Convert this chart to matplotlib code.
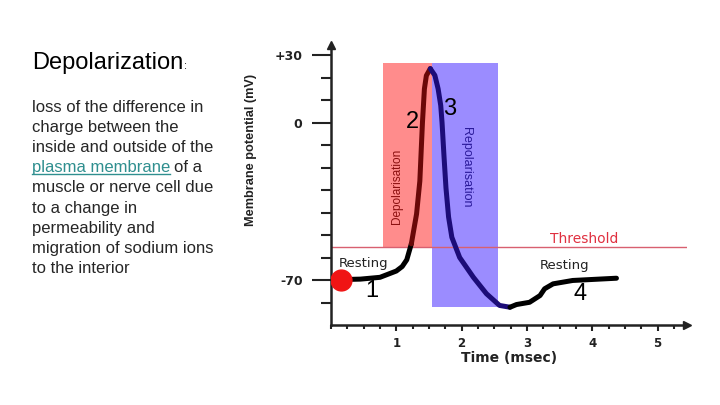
import matplotlib
matplotlib.use('Agg')
import matplotlib.pyplot as plt
from matplotlib.ticker import FixedLocator, MultipleLocator
from matplotlib.lines import Line2D

# datos (tiempo en ms, potencial en mV)
rest_t = [0.16, 0.45, 0.75, 1.00, 1.09, 1.16, 1.23]
rest_v = [-69.8, -69.6, -68.8, -66.0, -64.0, -61.0, -53.9]
dep_t = [1.23, 1.31, 1.36, 1.40, 1.43, 1.46, 1.52]
dep_v = [-53.9, -40.6, -26.0, 0.0, 15.0, 20.9, 24.0]
rep_t = [1.52, 1.59, 1.64, 1.68, 1.70, 1.73, 1.76, 1.80, 1.85, 1.97, 2.18, 2.38, 2.58, 2.74]
rep_v = [24.0, 21.0, 15.0, 7.6, 0.0, -15.0, -29.0, -42.0, -51.0, -60.0, -68.8, -76.1, -81.3, -82.1]
rec_t = [2.74, 2.84, 3.04, 3.20, 3.27, 3.40, 3.70, 4.37]
rec_v = [-82.1, -80.9, -79.9, -76.9, -73.9, -71.7, -70.2, -69.2]

dep_box = [0.80, 1.54, -55.5, 26.5]   # t0, t1, v0, v1
rep_box = [1.54, 2.55, -82.0, 26.5]
threshold = -55.5

y_major = [30, 0, -70]
y_labels = ['+30', '0', '-70']
y_minor = [-80, -60, -50, -40, -30, -20, -10, 10, 20]
x_major = [1, 2, 3, 4, 5]

title = 'Depolarization'
body = ['loss of the difference in',
        'charge between the',
        'inside and outside of the',
        None,
        'muscle or nerve cell due',
        'to a change in',
        'permeability and',
        'migration of sodium ions',
        'to the interior']
link = 'plasma membrane'

W, H = 720, 405
fig = plt.figure(figsize=(7.2, 4.05), dpi=100)
fig.patch.set_facecolor('white')


def fx(px):
    return px / W


def fy(py):
    return 1 - py / H


# texto de la izquierda
tt = fig.text(fx(32), fy(69), title, family='Liberation Sans', fontsize=17,
              color='black', va='baseline')
base0, step = 111.7, 20.2
for i, s in enumerate(body):
    if s is None:
        continue
    fig.text(fx(32), fy(base0 + i * step), s, family='Liberation Sans',
             fontsize=12, color='#262626', va='baseline')
lk = fig.text(fx(32), fy(base0 + 3 * step), link, family='Liberation Sans',
              fontsize=12, color='#2f8f8f', va='baseline')

# ejes principales
ax = fig.add_axes([331 / W, 80 / H, 356 / W, 280 / H])
ax.set_xlim(0, 5.45)
ax.set_ylim(-90, 34.5)
for s in ['top', 'right']:
    ax.spines[s].set_visible(False)
for s in ['left', 'bottom']:
    ax.spines[s].set_linewidth(1.8)
    ax.spines[s].set_color('#222222')
ax.plot(1, -90, '>', color='#222222', ms=6, transform=ax.get_yaxis_transform(), clip_on=False)
ax.plot(0, 1, '^', color='#222222', ms=6, transform=ax.get_xaxis_transform(), clip_on=False)

ax.yaxis.set_major_locator(FixedLocator(y_major))
ax.set_yticklabels(y_labels)
ax.yaxis.set_minor_locator(FixedLocator(y_minor))
ax.xaxis.set_major_locator(FixedLocator(x_major))
ax.set_xticklabels([str(v) for v in x_major])
ax.xaxis.set_minor_locator(MultipleLocator(0.25))
ax.tick_params(axis='y', which='major', length=14, width=1.5, pad=6.5, color='#222222')
ax.tick_params(axis='y', which='minor', length=7, width=1.5, color='#222222')
ax.tick_params(axis='x', which='major', length=4.5, width=1.5, pad=4, color='#222222')
ax.tick_params(axis='x', which='minor', length=3, width=1.5, color='#222222')
for lab in ax.get_yticklabels() + ax.get_xticklabels():
    lab.set_fontweight('bold')
    lab.set_color('#222222')
    lab.set_family('DejaVu Sans')
for lab in ax.get_yticklabels():
    lab.set_fontsize(9)
for lab in ax.get_xticklabels():
    lab.set_fontsize(8.5)

ax.set_ylabel('Membrane potential (mV)', family=['Liberation Sans Narrow', 'Liberation Sans'],
              fontweight='bold', fontsize=9.2, color='#222222')
ax.yaxis.set_label_coords(-0.208, 0.625)
ax.set_xlabel('Time (msec)', family='DejaVu Sans', fontweight='bold', fontsize=10,
              color='#222222', va='center')
ax.xaxis.set_label_coords(0.5, -0.118)

# zonas coloreadas
ax.fill_between([dep_box[0], dep_box[1]], dep_box[2], dep_box[3], color='#ff8c8c', lw=0, zorder=1)
ax.fill_between([rep_box[0], rep_box[1]], rep_box[2], rep_box[3], color='#9b8cff', lw=0, zorder=1)
ax.axhline(threshold, color='#d86070', lw=1, zorder=2)

# curva del potencial de accion
kw = dict(lw=3.6, solid_capstyle='round', solid_joinstyle='round', zorder=3)
ax.plot(rest_t, rest_v, color='black', **kw)
ax.plot(dep_t, dep_v, color='#6a0808', **kw)
ax.plot(rep_t, rep_v, color='#1c0c78', **kw)
ax.plot(rec_t, rec_v, color='black', **kw)
ax.plot(rest_t[0], rest_v[0], 'o', color='#f01414', ms=15, zorder=4)

# etiquetas
ax.text(3.87, -51.6, 'Threshold', color='#e03040', fontsize=10, family='DejaVu Sans',
        ha='center', va='center')
ax.text(0.5, -62.7, 'Resting', color='#222222', fontsize=9.5, family='DejaVu Sans',
        ha='center', va='center')
ax.text(3.57, -63.5, 'Resting', color='#222222', fontsize=9.5, family='DejaVu Sans',
        ha='center', va='center')
ax.text(1.01, -28.4, 'Depolarisation', color='#8b1010', fontsize=8.5, rotation=90,
        family=['Liberation Sans Narrow', 'Liberation Sans'], ha='center', va='center')
ax.text(2.06, -19.7, 'Repolarisation', color='#2a1a9a', fontsize=9, rotation=-90,
        family=['Liberation Sans Narrow', 'Liberation Sans'], ha='center', va='center')
for s, t, v in [('1', 0.63, -75), ('2', 1.24, 0.4), ('3', 1.82, 6), ('4', 3.81, -76)]:
    ax.text(t, v, s, fontsize=17, color='black', family='Liberation Sans',
            ha='center', va='center')

# subrayado del enlace y texto que sigue
fig.canvas.draw()
r = fig.canvas.get_renderer()
bb = lk.get_window_extent(r)
yb = fy(base0 + 3 * step + 1.8)
fig.add_artist(Line2D([bb.x0 / W, bb.x1 / W], [yb, yb], color='#2f8f8f', lw=1))
fig.text((bb.x1 + 4) / W, fy(base0 + 3 * step), 'of a', family='Liberation Sans',
         fontsize=12, color='#262626', va='baseline')
tb = tt.get_window_extent(r)
fig.text((tb.x1 + 1) / W, fy(69), ':', family='Liberation Sans', fontsize=8,
         color='black', va='baseline')

fig.savefig('out.png', dpi=100)
